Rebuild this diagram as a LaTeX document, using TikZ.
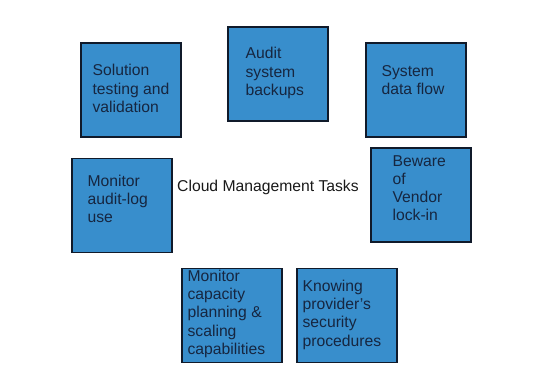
\documentclass[tikz,border=0pt]{standalone}
\usepackage{fontspec}
\setmainfont{Liberation Sans}
\usepackage{tikz}
\usetikzlibrary{positioning, calc}
\definecolor{taskblue}{RGB}{56,142,204}
\definecolor{taskline}{RGB}{16,26,42}
\definecolor{tasktext}{RGB}{22,38,64}

\begin{document}
\begin{tikzpicture}[
    x=1pt, y=-1pt,
    task/.style={draw=taskline, line width=1.2pt, rectangle, fill=taskblue, minimum width=100pt, minimum height=94pt, inner sep=0pt},
    tasklabel/.style={anchor=north west, inner sep=0pt, align=left, text=tasktext, font=\fontsize{15.7}{18.2}\selectfont},
    title/.style={anchor=north west, inner sep=0pt, text=black!90, font=\fontsize{15.7}{18.2}\selectfont}
]
\useasboundingbox (0,0) rectangle (560,387);

% Boxes
\node (testing) [task] at (131,90) {};
\node (backups) [task] at (278,74) {};
\node (dataflow) [task] at (416,90) {};
\node (lockin) [task] at (421,195) {};
\node (auditlog) [task] at (122,205.5) {};
\node (capacity) [task] at (232,315.5) {};
\node (security) [task] at (347,315.5) {};

% Texts
\node (testingtxt) [tasklabel] at ($(testing.north west)+(12,22)$) {Solution\\testing and\\validation};
\node (backupstxt) [tasklabel] at ($(backups.north west)+(18,21)$) {Audit\\system\\backups};
\node (dataflowtxt) [tasklabel] at ($(dataflow.north west)+(16,23)$) {System\\data flow};
\node (lockintxt) [tasklabel] at ($(lockin.north west)+(22,8)$) {Beware\\of\\Vendor\\lock-in};
\node (auditlogtxt) [tasklabel] at ($(auditlog.north west)+(16,17)$) {Monitor\\audit-log\\use};
\node (capacitytxt) [tasklabel] at ($(capacity.north west)+(6,2)$) {Monitor\\capacity\\planning \&\\scaling\\capabilities};
\node (securitytxt) [tasklabel] at ($(security.north west)+(6,12)$) {Knowing\\provider’s\\security\\procedures};

% Centre
\node (centre) [title] at (177,180) {Cloud Management Tasks};

\end{tikzpicture}
\end{document}
